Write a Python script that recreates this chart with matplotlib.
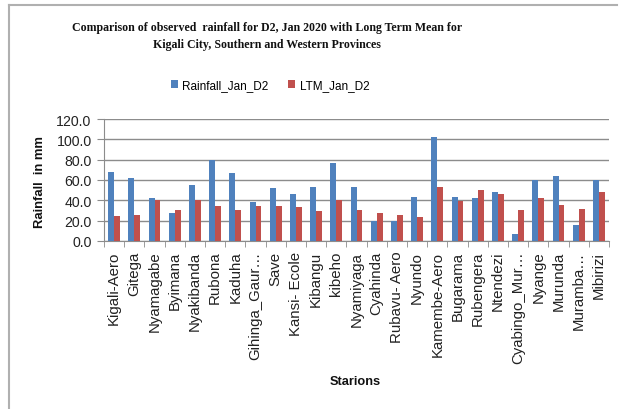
import matplotlib
matplotlib.use("Agg")
import matplotlib.pyplot as plt
import numpy as np
from matplotlib.lines import Line2D

stations = ["Kigali-Aero", "Gitega", "Nyamagabe", "Byimana", "Nyakibanda", "Rubona",
            "Kaduha", "Gihinga_Gaur\u2026", "Save", "Kansi- Ecole", "Kibangu", "kibeho",
            "Nyamiyaga", "Cyahinda", "Rubavu- Aero", "Nyundo", "Kamembe-Aero", "Bugarama",
            "Rubengera", "Ntendezi", "Cyabingo_Mur\u2026", "Nyange", "Murunda", "Muramba\u2026",
            "Mibirizi"]
rainfall = [68.0, 61.5, 42.2, 27.8, 54.9, 80.1, 66.7, 37.9, 52.3, 46.1, 53.6, 76.8,
            53.6, 19.6, 19.6, 43.2, 102.7, 43.2, 42.2, 48.4, 7.2, 59.8, 63.8, 16.0, 59.8]
ltm = [24.2, 25.2, 39.9, 30.4, 40.5, 34.3, 30.4, 34.3, 34.3, 33.0, 29.1, 40.5,
       30.4, 27.8, 25.2, 23.9, 53.6, 39.6, 50.0, 46.1, 30.4, 42.2, 35.6, 31.7, 48.4]
yticks = [0, 20, 40, 60, 80, 100, 120]

W, H = 620, 410
fig = plt.figure(figsize=(W / 100, H / 100), dpi=100)

def fx(px):
    return px / W

def fy(py):
    return 1 - py / H

ax = fig.add_axes([fx(104), fy(242), fx(609) - fx(104), fy(120) - fy(242)])

x = np.arange(len(stations))
bw = 0.29
blue = "#4F81BD"
red = "#C0504D"
ax.bar(x - bw / 2, rainfall, width=bw, color=blue, label="Rainfall_Jan_D2", zorder=3)
ax.bar(x + bw / 2, ltm, width=bw, color=red, label="LTM_Jan_D2", zorder=3)

ax.set_xlim(-0.5, len(stations) - 0.5)
ax.set_ylim(0, 120)
ax.set_yticks(yticks)
ax.set_yticklabels([f"{v:.1f}" for v in yticks], fontsize=10.2, family="Liberation Sans", color="#222222")
ax.yaxis.grid(True, color="#8c8c8c", linewidth=1.0, zorder=0)
ax.set_axisbelow(True)

ax.set_xticks(x)
ax.set_xticklabels(stations, rotation=90, fontsize=10.8, family="Liberation Sans", color="#222222")
ax.set_xticks(np.arange(-0.5, len(stations), 1.0), minor=True)
ax.tick_params(axis="x", which="major", length=0, pad=7)
ax.tick_params(axis="x", which="minor", length=4, color="#8c8c8c")
ax.tick_params(axis="y", length=5, color="#8c8c8c", pad=4)

for s in ["top", "right"]:
    ax.spines[s].set_visible(False)
for s in ["left", "bottom"]:
    ax.spines[s].set_color("#8c8c8c")

fig.text(fx(267), fy(28), "Comparison of observed  rainfall for D2, Jan 2020 with Long Term Mean for",
         ha="center", va="center", fontsize=8.6, fontweight="bold", family="Liberation Serif", color="#111111")
fig.text(fx(267), fy(45), "Kigali City, Southern and Western Provinces",
         ha="center", va="center", fontsize=8.6, fontweight="bold", family="Liberation Serif", color="#111111")

leg = fig.legend(loc="center", bbox_to_anchor=(fx(270), fy(86)), ncol=2, frameon=False,
                 prop={"family": "Liberation Sans", "size": 8.5}, handlelength=0.6, handleheight=0.6,
                 handletextpad=0.35, columnspacing=1.7)

fig.text(fx(40), fy(182), "Rainfall  in mm", rotation=90, ha="center", va="center",
         fontsize=9.4, fontweight="bold", family="Liberation Sans", color="#111111")
fig.text(fx(355), fy(382), "Starions", ha="center", va="center",
         fontsize=9.2, fontweight="bold", family="Liberation Sans", color="#111111")

# outer chart frame
fig.add_artist(Line2D([fx(9), fx(9)], [fy(6), 0], transform=fig.transFigure, color="#b0b0b0", linewidth=1.5))
fig.add_artist(Line2D([fx(9), fx(617)], [fy(6), fy(6)], transform=fig.transFigure, color="#b0b0b0", linewidth=1.5))

fig.savefig("out.png", dpi=100)
